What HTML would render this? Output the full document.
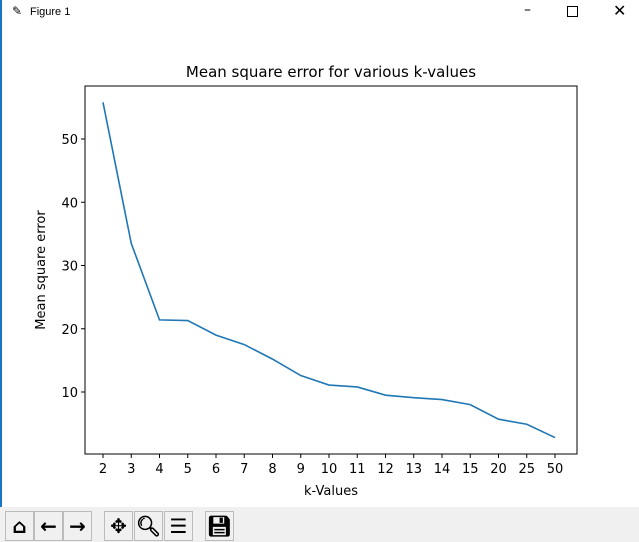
<!DOCTYPE html>
<html><head><meta charset="utf-8"><style>
body{margin:0;width:639px;height:542px;overflow:hidden;background:#fff;font-family:"DejaVu Sans","Liberation Sans",sans-serif;position:relative}
.tb{position:absolute;left:0;top:507px;width:639px;height:35px;background:#f0f0f0}
.btn{position:absolute;top:4px;width:27px;height:28px;border:1px solid #bbb;background:#f0f0f0;font-size:20px;text-align:center;line-height:28px;color:#000;font-weight:bold}
</style></head><body>
<div style="position:absolute;left:0;top:0;width:2px;height:542px;background:#1a74c4"></div>
<div style="position:absolute;left:30px;top:6px;font-size:11px;font-family:'Liberation Sans',sans-serif">Figure 1</div>
<div style="position:absolute;left:12px;top:4px;font-size:12px">✎</div>
<div style="position:absolute;left:524px;top:2px;font-size:14px">–</div>
<div style="position:absolute;left:567px;top:6px;width:9px;height:9px;border:1px solid #000"></div>
<div style="position:absolute;left:613px;top:1px;font-size:16px">✕</div>
<svg width="639" height="507" style="position:absolute;left:0;top:0" id="svg"></svg>
<div class="tb">
<div class="btn" style="left:5px">⌂</div>
<div class="btn" style="left:34px">←</div>
<div class="btn" style="left:63px">→</div>
<div class="btn" style="left:104px">✥</div>
<div class="btn" style="left:134px">🔍︎</div>
<div class="btn" style="left:164px">☰</div>
<div class="btn" style="left:205px">💾︎</div>
</div>
<script>
const categories=["2","3","4","5","6","7","8","9","10","11","12","13","14","15","20","25","50"];
const mse=[55.8,33.5,21.4,21.3,19.0,17.5,15.2,12.6,11.1,10.8,9.5,9.1,8.8,8.0,5.7,4.9,2.8];
const yTicks=[10,20,30,40,50];
const svg=document.getElementById('svg');const NS="http://www.w3.org/2000/svg";
const L=85,R=577,T=86,B=454;
const x=i=>103+i*(555-103)/(categories.length-1);
const y=v=>392-(v-10)*6.325;
function mk(t,a,txt){const e=document.createElementNS(NS,t);for(const k in a)e.setAttribute(k,a[k]);if(txt!==undefined)e.textContent=txt;svg.appendChild(e);return e;}
let e=mk('rect',{x:L,y:T,width:R-L,height:B-T,fill:'none',stroke:'#000','stroke-width':1});

categories.forEach((c,i)=>{
 let t=mk('line',{x1:x(i),x2:x(i),y1:B,y2:B+4,stroke:'#000'});
 
 let l=mk('text',{x:x(i),y:B+19,'font-size':13,'text-anchor':'middle'},c);
 
});
yTicks.forEach(v=>{
 let t=mk('line',{x1:L-4,x2:L,y1:y(v),y2:y(v),stroke:'#000'});
 
 let l=mk('text',{x:L-7,y:y(v)+5,'font-size':13,'text-anchor':'end'},v);
 
});
let p=mk('polyline',{points:mse.map((v,i)=>x(i)+','+y(v)).join(' '),fill:'none',stroke:'#1f77b4','stroke-width':1.6});

let ti=mk('text',{x:331,y:77,'font-size':15,'text-anchor':'middle'},'Mean square error for various k-values');

let xt=mk('text',{x:331,y:495,'font-size':13,'text-anchor':'middle'},'k-Values');

let yt=mk('text',{x:45,y:270,'font-size':13,'text-anchor':'middle',transform:'rotate(-90 45 270)'},'Mean square error');

</script>
</body></html>
